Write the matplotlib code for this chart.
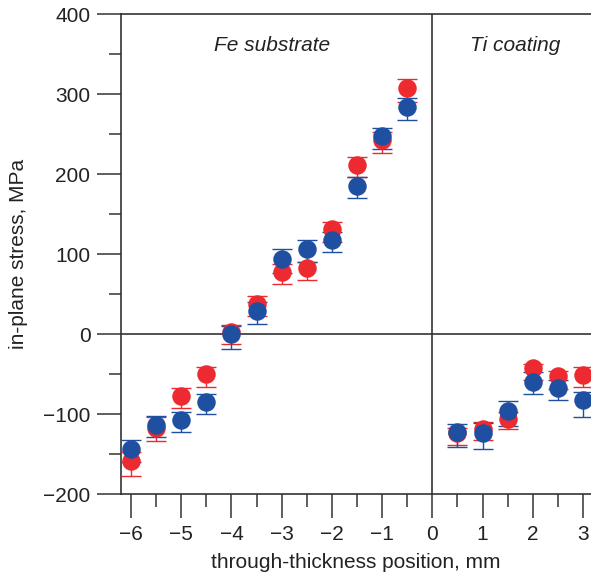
import matplotlib
matplotlib.use("Agg")
import matplotlib.pyplot as plt
import numpy as np

plt.rcParams['font.family'] = ['Liberation Sans', 'DejaVu Sans']

positions = [-6, -5.5, -5, -4.5, -4, -3.5, -3, -2.5, -2, -1.5, -1, -0.5,
             0.5, 1, 1.5, 2, 2.5, 3]

red_stress = [-159, -117, -77, -50, 3, 38, 78, 82, 131, 211, 242, 307,
              -124, -119, -106, -43, -53, -51]
red_err_low = [18, 17, 15, 16, 16, 16, 16, 15, 16, 15, 16, 17,
               15, 14, 13, 15, 16, 15]
red_err_up = [12, 13, 10, 9, 8, 9, 10, 8, 9, 10, 11, 12,
              7, 9, 8, 6, 7, 10]

blue_stress = [-144, -114, -107, -85, 0, 29, 94, 106, 118, 185, 247, 284,
               -122, -124, -96, -60, -67, -82]
blue_err_low = [16, 15, 16, 15, 19, 17, 18, 16, 16, 15, 16, 17,
                19, 20, 19, 15, 16, 22]
blue_err_up = [12, 11, 10, 10, 10, 11, 12, 12, 10, 11, 10, 11,
               10, 13, 12, 12, 10, 10]

x_ticks_major = [-6, -5, -4, -3, -2, -1, 0, 1, 2, 3]
y_ticks_major = [-200, -100, 0, 100, 200, 300, 400]

RED = '#ec2a30'
BLUE = '#1f4fa0'
DARK = '#333333'

W, H = 591, 576
fig = plt.figure(figsize=(W / 100, H / 100), dpi=100)
ax = fig.add_axes([121 / W, (576 - 494) / H, (591 - 121) / W, 480 / H])

for vals, lo, up, col in [(red_stress, red_err_low, red_err_up, RED),
                          (blue_stress, blue_err_low, blue_err_up, BLUE)]:
    ax.errorbar(positions, vals, yerr=[lo, up], fmt='o', color=col, ms=12.3,
                mec=col, ecolor=col, elinewidth=1.0, capsize=7.5,
                capthick=1.0, zorder=3)

ax.axhline(0, color=DARK, lw=1.2, zorder=2)
ax.axvline(0, color=DARK, lw=1.2, zorder=2)

ax.set_xlim(-6.2, 3.16)
ax.set_ylim(-200, 400)

ax.set_xticks(x_ticks_major)
ax.set_xticks(np.arange(-6, 3.01, 0.5), minor=True)
ax.set_yticks(y_ticks_major)
ax.set_yticks(np.arange(-200, 401, 50), minor=True)
ax.set_xticklabels(['\u2212' + str(-v) if v < 0 else str(v) for v in x_ticks_major])
ax.set_yticklabels(['\u2212' + str(-v) if v < 0 else str(v) for v in y_ticks_major])

ax.tick_params(which='major', direction='out', length=17, width=1.1,
               color=DARK, labelsize=15, pad=5, labelcolor='#222222')
ax.tick_params(which='minor', direction='out', length=9, width=1.1, color=DARK)

for s in ['left', 'top', 'bottom']:
    ax.spines[s].set_color(DARK)
    ax.spines[s].set_linewidth(1.2)
ax.spines['right'].set_visible(False)

ax.set_xlabel('through-thickness position, mm', fontsize=15, color='#222222', labelpad=7)
ax.set_ylabel('in-plane stress, MPa', fontsize=15, color='#222222', labelpad=11)

ax.text(-3.19, 361, 'Fe substrate', fontsize=15, style='italic', ha='center',
        va='center', color='#222222')
ax.text(1.65, 361, 'Ti coating', fontsize=15, style='italic', ha='center',
        va='center', color='#222222')

fig.savefig('out.png', dpi=100)
